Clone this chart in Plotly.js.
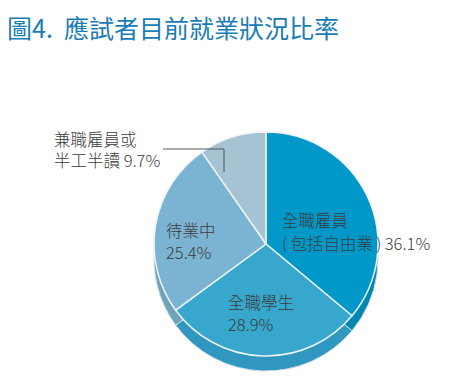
<!DOCTYPE html>
<html>
<head>
<meta charset="utf-8">
<script src="https://cdn.plot.ly/plotly-3.0.1.min.js"></script>
<style>html,body{margin:0;padding:0;background:#fff;}#chart{width:466px;height:392px;}</style>
</head>
<body>
<div id="chart"></div>
<script>
// Data
const categories = ['全職雇員(包括自由業)', '全職學生', '待業中', '兼職雇員或半工半讀'];
const values = [36.1, 28.9, 25.4, 9.7];
const labelLine1 = ['全職雇員', '全職學生', '待業中', '兼職雇員或'];
const labelLine2 = ['(\u2009包括自由業\u2009)\u2009', '', '', '半工半讀 '];
const titleText = '圖4.\u00a0\u00a0應試者目前就業狀況比率';

// Styles
const topColors = ['#0098c9', '#37a7cd', '#7ab4d2', '#a5c3d3'];
const sideColors = ['#0086b3', '#3097c0', '#6fa3bc', '#93b3c3'];
const W = 466, H = 392;
const cx = 266, cy = 244, r = 112, depth = 15;
const fx = px => px / W;
const fy = py => 1 - py / H;

const pieBase = {
  type: 'pie', values: values, labels: categories, sort: false,
  direction: 'clockwise', rotation: 0, textinfo: 'none', hoverinfo: 'none',
  showlegend: false
};
const sidePie = Object.assign({}, pieBase, {
  marker: {colors: sideColors, line: {color: '#cfdde4', width: 1}},
  domain: {x: [fx(cx - r), fx(cx + r)], y: [fy(cy + depth + r), fy(cy + depth - r)]}
});
const topPie = Object.assign({}, pieBase, {
  marker: {colors: topColors, line: {color: '#eef3f5', width: 1.5}},
  domain: {x: [fx(cx - r), fx(cx + r)], y: [fy(cy + r), fy(cy - r)]}
});

const baseFont = {family: '"Noto Sans CJK TC", "Noto Sans", sans-serif', size: 16.5, color: '#3c3c3c', weight: 300};
// label anchor positions (left x, line-1 center y, line-2 center y); null line-2 => one two-line text centred at y1
const labelPos = [[281, 220, 243], [227, 302, 324], [165, 230, 252], [53, 149.5, null]];
const annotations = [];
values.forEach((v, i) => {
  const [lx, y1, y2] = labelPos[i];
  const pct = v.toFixed(1) + '%';
  if (y2 === null) {
    annotations.push({xref: 'paper', yref: 'paper', x: fx(lx), y: fy(y1), xanchor: 'left', yanchor: 'middle',
      align: 'left', text: labelLine1[i] + '<br>' + labelLine2[i] + pct, showarrow: false, font: baseFont, borderpad: 0});
  } else {
    annotations.push({xref: 'paper', yref: 'paper', x: fx(lx), y: fy(y1), xanchor: 'left', yanchor: 'middle',
      text: labelLine1[i], showarrow: false, font: baseFont, borderpad: 0});
    annotations.push({xref: 'paper', yref: 'paper', x: fx(lx), y: fy(y2), xanchor: 'left', yanchor: 'middle',
      text: labelLine2[i] + pct, showarrow: false, font: baseFont, borderpad: 0});
  }
});

const layout = {
  width: W, height: H,
  margin: {l: 0, r: 0, t: 0, b: 0},
  paper_bgcolor: '#ffffff',
  title: {text: titleText, x: fx(7), xanchor: 'left', xref: 'paper', y: fy(29), yanchor: 'middle',
    font: {family: '"Noto Sans CJK TC", sans-serif', size: 25, color: '#1a7cb4'}},
  annotations: annotations,
  shapes: [
    {type: 'path', xref: 'paper', yref: 'paper',
     path: `M ${fx(163)} ${fy(149)} L ${fx(224)} ${fy(149)} L ${fx(224)} ${fy(172)}`,
     line: {color: '#555', width: 1}}
  ]
};

Plotly.newPlot('chart', [sidePie, topPie], layout, {staticPlot: true, displayModeBar: false});
</script>
</body>
</html>
